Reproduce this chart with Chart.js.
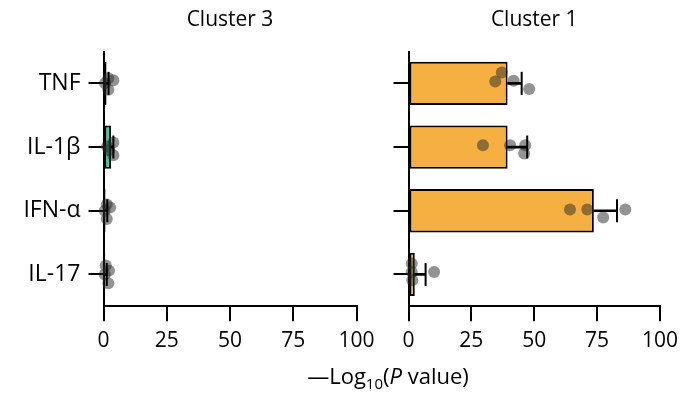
<!DOCTYPE html>
<html>
<head>
<meta charset="utf-8">
<script src="https://cdn.jsdelivr.net/npm/chart.js@4.4.1/dist/chart.umd.min.js"></script>
<style>
    html, body { margin: 0; padding: 0; background: #fff; }
    #wrap { position: relative; width: 685px; height: 397px; overflow: hidden; font-family: 'Open Sans', sans-serif; }
    .panel { position: absolute; top: 0; height: 397px; }
    #panel-c3 { left: 0; width: 385px; }
    #panel-c1 { left: 385px; width: 300px; }
    #x-title {
        position: absolute; left: 0; width: 776px; top: 362px;
        text-align: center; font-size: 22px; line-height: 26px; color: #000; white-space: nowrap;
    }
    #x-title sub { font-size: 15px; line-height: 0; vertical-align: -5px; }
</style>
</head>
<body>
<div id="wrap">
    <div class="panel" id="panel-c3"><canvas id="c3Chart"></canvas></div>
    <div class="panel" id="panel-c1"><canvas id="c1Chart"></canvas></div>
    <div id="x-title">&mdash;Log<sub>10</sub>(<i>P</i> value)</div>
</div>

<script>
// categories and axis ticks
const categories = ['TNF', 'IL-1β', 'IFN-α', 'IL-17'];
const xTicks = [0, 25, 50, 75, 100];

// Cluster 3: mean, error and single replicates (-log10 P)
const c3Means = [1.2, 3.0, 0.8, 0.7];
const c3Errors = [0.8, 0.9, 0.7, 0.6];
const c3Points = [
    [1.9, 3.9, 1.9, 0.6],
    [3.9, 3.9, 1.4, 2.2],
    [1.3, 2.6, 1.3, 0.5],
    [0.9, 2.2, 1.9, 0.5]
];
// vertical spread of the dots inside each row (in row units)
const c3Jitter = [
    [-0.08, -0.05, 0.1, 0],
    [-0.07, 0.13, -0.01, 0.05],
    [-0.1, -0.05, 0.13, 0],
    [-0.14, -0.06, 0.14, 0]
];

// Cluster 1
const c1Means = [39.4, 39.4, 73.7, 2.5];
const c1Errors = [5.6, 7.8, 9.2, 4.3];
const c1Points = [
    [37.1, 34.5, 41.8, 48.0],
    [29.6, 40.4, 46.4, 46.0],
    [64.2, 71.1, 77.4, 86.2],
    [1.3, 1.3, 1.5, 10.2]
];
const c1Jitter = [
    [-0.17, -0.03, -0.04, 0.09],
    [-0.03, -0.03, -0.03, 0.1],
    [-0.02, -0.02, 0.105, -0.02],
    [-0.17, -0.04, 0.09, -0.04]
];

const FONT = "'Open Sans', sans-serif";
const dotColor = 'rgba(40, 40, 40, 0.5)';
const plotBottom = 306.3;

function buildPanel(canvasId, title, means, errors, points, jitter, barColor, showLabels, axisWidth, padRight) {
    const dots = [];
    points.forEach((row, i) => row.forEach((v, k) => dots.push({ x: v, y: i + jitter[i][k] })));
    const whiskers = means.map((m, i) => [m, m + errors[i]]);
    const caps = means.map((m, i) => ({ x: m + errors[i], y: i }));

    const axisGrid = {
        drawOnChartArea: false,
        offset: false,
        color: '#000',
        tickColor: '#000',
        lineWidth: 2,
        tickWidth: 2,
        tickLength: 15
    };

    return new Chart(document.getElementById(canvasId), {
        type: 'bar',
        data: {
            labels: categories,
            datasets: [
                {
                    type: 'bar', data: means, backgroundColor: barColor,
                    borderColor: '#000', borderWidth: 2, borderSkipped: false,
                    barPercentage: 0.68, categoryPercentage: 1, grouped: false,
                    xAxisID: 'x', yAxisID: 'y', order: 3
                },
                {
                    type: 'scatter', data: dots, backgroundColor: dotColor, borderWidth: 0,
                    pointRadius: 6, xAxisID: 'x', yAxisID: 'yj', clip: false, order: 2
                },
                {
                    type: 'bar', data: whiskers, backgroundColor: '#000', borderWidth: 0,
                    barThickness: 2, grouped: false, xAxisID: 'x', yAxisID: 'y', order: 1
                },
                {
                    type: 'scatter', data: caps, pointStyle: 'line', rotation: 90, pointRadius: 11.5,
                    borderColor: '#000', borderWidth: 2, xAxisID: 'x', yAxisID: 'yj', clip: false, order: 0
                }
            ]
        },
        options: {
            indexAxis: 'y',
            responsive: true,
            maintainAspectRatio: false,
            animation: false,
            events: [],
            layout: { padding: { left: 0, right: padRight, top: 0, bottom: 0 } },
            plugins: {
                legend: { display: false },
                tooltip: { enabled: false },
                title: {
                    display: true,
                    text: title,
                    fullSize: false,
                    color: '#000',
                    font: { family: FONT, size: 21, weight: 'normal' },
                    padding: { top: 7, bottom: 19.3 }
                }
            },
            scales: {
                x: {
                    type: 'linear',
                    min: 0,
                    max: 100,
                    offset: false,
                    afterBuildTicks: axis => { axis.ticks = xTicks.map(v => ({ value: v })); },
                    afterFit: axis => { axis.height = 397 - plotBottom; },
                    ticks: { color: '#000', font: { family: FONT, size: 21 }, padding: 7, maxRotation: 0 },
                    grid: axisGrid,
                    border: { display: true, color: '#000', width: 2 }
                },
                y: {
                    type: 'category',
                    offset: true,
                    afterFit: axis => { axis.width = axisWidth; },
                    ticks: {
                        color: '#000',
                        font: { family: FONT, size: 23 },
                        padding: 8,
                        callback: (v, i) => showLabels ? categories[i] : ''
                    },
                    grid: axisGrid,
                    border: { display: true, color: '#000', width: 2 }
                },
                // hidden row axis for the spread-out replicate dots
                yj: {
                    type: 'linear', display: false, offset: false,
                    grid: { offset: false }, min: -0.5, max: 3.5, reverse: true
                }
            }
        }
    });
}

buildPanel('c3Chart', 'Cluster 3', c3Means, c3Errors, c3Points, c3Jitter, '#2fd69b', true, 103.5, 28.5);
buildPanel('c1Chart', 'Cluster 1', c1Means, c1Errors, c1Points, c1Jitter, '#f5b041', false, 23.5, 23.5);
</script>
</body>
</html>
